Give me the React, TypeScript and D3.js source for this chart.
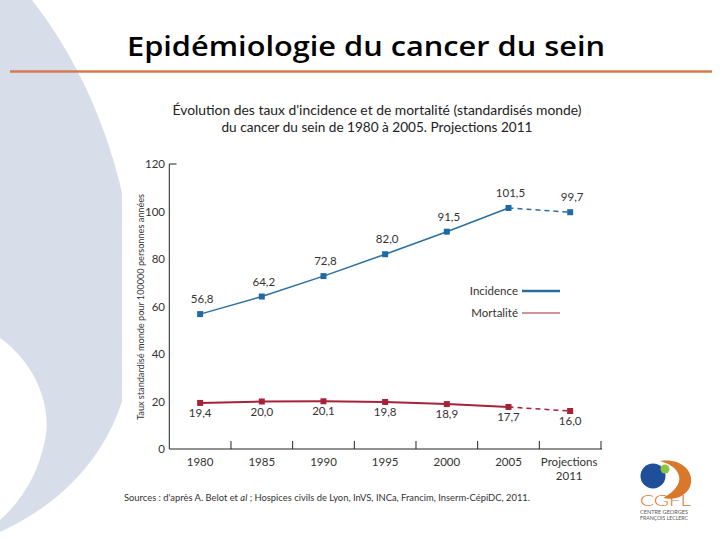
import React from "react";
import * as d3 from "d3";

const categories = ["1980", "1985", "1990", "1995", "2000", "2005", "Projections 2011"];
const incidence = [56.8, 64.2, 72.8, 82.0, 91.5, 101.5, 99.7];
const mortalite = [19.4, 20.0, 20.1, 19.8, 18.9, 17.7, 16.0];
const yTicks = [0, 20, 40, 60, 80, 100, 120];
const seriesNames = ["Incidence", "Mortalité"];

const BLUE = "#2a6e9f";
const BLUE_MK = "#1f6aa5";
const RED = "#a52238";
const FONT = "Lato, 'Open Sans', sans-serif";

const fmt = (v: number) => d3.format(".1f")(v).replace(".", ",");

export default function App() {
  const W = 720, H = 540;
  const x = d3.scaleBand<string>().domain(categories).range([169.3, 601]).padding(0);
  const y = d3.scaleLinear().domain([0, 120]).range([449, 164]);
  const cx = (c: string) => (x(c) as number) + x.bandwidth() / 2;

  const line = d3.line<[number, number]>().x(d => d[0]).y(d => d[1]);
  const pts = (vals: number[]) => vals.map((v, i) => [cx(categories[i]), y(v)] as [number, number]);
  const incPts = pts(incidence);
  const morPts = pts(mortalite);
  const n = categories.length;

  const xTickPos = categories.slice(1).map(c => x(c) as number).concat([x.range()[1]]);

  return (
    <svg width={W} height={H} style={{ position: "absolute", left: 0, top: 0, background: "#fff" }}>
      <rect x={0} y={0} width={W} height={H} fill="#fff" />
      {/* decorative background shape */}
      <path d="M0,0 L32,0 C95,80 140,200 135,330 C130,430 80,495 0,532 Z" fill="#d7dee9" />
      <path d="M0,338 C38,365 52,410 45,440 C38,475 22,500 0,520 Z" fill="#fff" />

      {/* title */}
      <text x={127} y={56} fontFamily="'Open Sans', 'Noto Sans', sans-serif" fontWeight={600} fontSize={27}
        textLength={478} lengthAdjust="spacingAndGlyphs" fill="#000">Epidémiologie du cancer du sein</text>
      <line x1={10} x2={712} y1={71.5} y2={71.5} stroke="#d47c4c" strokeWidth={2.5} />

      {/* chart image area */}
      <rect x={122} y={97} width={500} height={415} fill="#fff" />

      <text x={377} y={115} textAnchor="middle" fontFamily={FONT} fontSize={13.5} fill="#222"
        textLength={409} lengthAdjust="spacingAndGlyphs">Évolution des taux d'incidence et de mortalité (standardisés monde)</text>
      <text x={377} y={132} textAnchor="middle" fontFamily={FONT} fontSize={13.5} fill="#222"
        textLength={311} lengthAdjust="spacingAndGlyphs">du cancer du sein de 1980 à 2005. Projections 2011</text>

      {/* axes */}
      <line x1={169.3} x2={169.3} y1={y(120)} y2={y(0)} stroke="#222" strokeWidth={1} />
      <line x1={169.3} x2={176.5} y1={y(120)} y2={y(120)} stroke="#222" strokeWidth={1} />
      <line x1={169.3} x2={602} y1={y(0)} y2={y(0)} stroke="#222" strokeWidth={1} />
      {xTickPos.map((p, i) => (
        <line key={i} x1={p} x2={p} y1={y(0)} y2={y(0) - 8} stroke="#222" strokeWidth={1} />
      ))}
      {yTicks.map(t => (
        <text key={t} x={165} y={y(t) + 4} textAnchor="end" fontFamily={FONT} fontSize={11.5} fill="#333">{t}</text>
      ))}
      {categories.map(c => {
        const parts = c.split(" ");
        return parts.map((p, j) => (
          <text key={c + j} x={cx(c) + (parts.length > 1 ? -1 : 0)} y={466 + j * 14} textAnchor="middle"
            fontFamily={FONT} fontSize={11.5} fill="#333">{p}</text>
        ));
      })}
      <text transform={`translate(144,307) rotate(-90)`} textAnchor="middle" fontFamily={FONT} fontSize={8.6}
        fill="#333" textLength={226} lengthAdjust="spacingAndGlyphs">Taux standardisé monde pour 100000 personnes années</text>

      {/* incidence */}
      <path d={line(incPts.slice(0, n - 1)) as string} fill="none" stroke={BLUE} strokeWidth={1.5} />
      <path d={line(incPts.slice(n - 2)) as string} fill="none" stroke={BLUE} strokeWidth={1.5} strokeDasharray="5,4" />
      {incPts.map((p, i) => (
        <rect key={i} x={p[0] - 3} y={p[1] - 3} width={6} height={6} fill={BLUE_MK} />
      ))}
      {incPts.map((p, i) => (
        <text key={i} x={p[0] + 2} y={p[1] - 11} textAnchor="middle" fontFamily={FONT} fontSize={11.5} fill="#333">{fmt(incidence[i])}</text>
      ))}

      {/* mortalité */}
      <path d={line(morPts.slice(0, n - 1)) as string} fill="none" stroke={RED} strokeWidth={2} />
      <path d={line(morPts.slice(n - 2)) as string} fill="none" stroke={RED} strokeWidth={1.5} strokeDasharray="5,4" />
      {morPts.map((p, i) => (
        <rect key={i} x={p[0] - 3} y={p[1] - 3} width={6} height={6} fill={RED} />
      ))}
      {morPts.map((p, i) => (
        <text key={i} x={p[0]} y={p[1] + 14} textAnchor="middle" fontFamily={FONT} fontSize={11.5} fill="#333">{fmt(mortalite[i])}</text>
      ))}

      {/* legend */}
      <text x={518} y={295} textAnchor="end" fontFamily={FONT} fontSize={11.5} fill="#333">{seriesNames[0]}</text>
      <line x1={522} x2={560} y1={291} y2={291} stroke={BLUE} strokeWidth={2.5} />
      <text x={518} y={317} textAnchor="end" fontFamily={FONT} fontSize={11.5} fill="#333">{seriesNames[1]}</text>
      <line x1={522} x2={560} y1={313} y2={313} stroke={RED} strokeWidth={1} />

      {/* source */}
      <text x={124} y={501} fontFamily={FONT} fontSize={9} fill="#333" textLength={406} lengthAdjust="spacingAndGlyphs">
        Sources : d'après A. Belot et <tspan fontStyle="italic">al</tspan> ; Hospices civils de Lyon, InVS, INCa, Francim, Inserm-CépiDC, 2011.
      </text>

      {/* logo */}
      <path d="M660,461 C680,458 693,470 691,483 C689,495 676,501 663,498 C674,492 681,484 679,476 C677,468 670,464 660,461 Z" fill="#d9772b" />
      <circle cx={653} cy={476} r={12.5} fill="#1f4e9b" />
      <circle cx={665} cy={469} r={4.5} fill="#8cc63f" />
      <text x={640} y={506} fontFamily={FONT} fontWeight={300} fontSize={16} fill="#d9772b" textLength={51} lengthAdjust="spacingAndGlyphs">CGFL</text>
      <text x={640} y={513.5} fontFamily={FONT} fontSize={5} fill="#555" textLength={48} lengthAdjust="spacingAndGlyphs">CENTRE GEORGES</text>
      <text x={640} y={520} fontFamily={FONT} fontSize={5} fill="#555" textLength={48} lengthAdjust="spacingAndGlyphs">FRANÇOIS LECLERC</text>
    </svg>
  );
}
